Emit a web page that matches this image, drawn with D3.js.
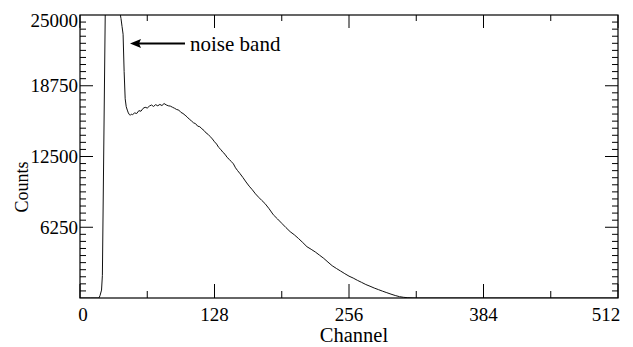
<!DOCTYPE html>
<html>
<head>
<meta charset="utf-8">
<script src="https://cdn.jsdelivr.net/npm/d3@7"></script>
<style>
  body { margin: 0; background: #fff; }
</style>
</head>
<body>
<svg id="chart"></svg>
<script>
// spectrum (channel, counts)
const channels = [0, 10, 17, 18, 19, 20.5, 21.3, 24, 24.3, 37, 38, 39, 40, 41, 42, 43, 44, 45, 46, 47, 48, 49, 50,
  52, 54, 56, 58, 60, 62, 64, 66, 68, 70, 72, 74, 76, 78, 80, 82, 84, 86, 88, 90, 92, 94, 96, 98, 100,
  102, 104, 106, 108, 110, 112, 114, 116, 118, 120, 122, 124, 126, 128, 130, 132, 134, 136, 138, 140,
  142, 144, 146, 148, 150, 152, 155, 158, 161, 164, 167, 170, 173, 176, 180, 184, 188, 192, 196, 200,
  204, 208, 212, 216, 220, 224, 228, 232, 236, 240, 244, 248, 252, 256, 260, 264, 268, 272, 276, 280,
  284, 288, 292, 296, 300, 304, 308, 312, 316, 320, 512]
const counts = [0, 0, 0, 0, 200, 700, 2000, 25000, 30000, 30000, 25200, 24700, 24000, 23300, 20000, 17600, 16900, 16600, 16350, 16200, 16150, 16250, 16200,
  16350, 16300, 16550, 16500, 16750, 16850, 16780, 16950, 17050, 16920, 17080, 16980, 17100, 17000, 17180, 17060, 16980, 16950, 16850, 16760, 16650, 16600, 16400, 16300, 16150,
  15990, 15800, 15650, 15480, 15400, 15180, 15130, 14950, 14800, 14580, 14450, 14250, 14050, 13800, 13600, 13300, 13120, 12870, 12700, 12420,
  12250, 12050, 11850, 11500, 11250, 11020, 10650, 10250, 9880, 9560, 9200, 8900, 8620, 8350, 7880, 7350, 6980, 6600, 6220, 5860,
  5580, 5250, 4900, 4530, 4300, 4060, 3780, 3500, 3170, 2850, 2610, 2380, 2150, 1930, 1760, 1560, 1380, 1190, 1040, 880,
  740, 600, 470, 340, 220, 120, 60, 25, 10, 0, 0]

const xMajor = [0, 128, 256, 384, 512]
const xMinor = [64, 192, 320, 448]
const yMajor = [6250, 12500, 18750, 25000]

const W = 633
const H = 347
const pLeft = 80, pRight = 618, pTop = 15, pBottom = 298
const serif = '"Liberation Serif", "Times New Roman", Times, "DejaVu Serif", serif'

const svg = d3.select('#chart')
  .attr('width', W)
  .attr('height', H)
  .style('font-family', serif)

const xScale = d3.scaleLinear().domain([0, 512]).range([pLeft, pRight])
const yScale = d3.scaleLinear().domain([0, 25000]).range([pBottom, pTop])

// clip so the noise spike gets cut at the top
svg.append('clipPath').attr('id', 'plot')
  .append('rect')
  .attr('x', pLeft).attr('y', pTop)
  .attr('width', pRight - pLeft).attr('height', pBottom - pTop)

const data = channels.map((c, i) => [c, counts[i]])

const line = d3.line()
  .x(d => xScale(d[0]))
  .y(d => yScale(d[1]))

svg.append('path')
  .datum(data)
  .attr('clip-path', 'url(#plot)')
  .attr('d', line)
  .attr('fill', 'none')
  .attr('stroke', '#111')
  .attr('stroke-width', 1)

// frame
svg.append('rect')
  .attr('x', pLeft).attr('y', pTop)
  .attr('width', pRight - pLeft).attr('height', pBottom - pTop)
  .attr('fill', 'none')
  .attr('stroke', '#000')
  .attr('stroke-width', 1.2)

// inward ticks, bottom + top
const xTicks = xMajor.map(v => [v, 14]).concat(xMinor.map(v => [v, 7]))
svg.append('g').selectAll('line')
  .data(xTicks)
  .enter()
  .append('line')
  .attr('x1', d => xScale(d[0])).attr('x2', d => xScale(d[0]))
  .attr('y1', pBottom).attr('y2', d => pBottom - d[1])
  .attr('stroke', '#000')
svg.append('g').selectAll('line')
  .data(xTicks)
  .enter()
  .append('line')
  .attr('x1', d => xScale(d[0])).attr('x2', d => xScale(d[0]))
  .attr('y1', pTop).attr('y2', d => pTop + d[1] - 1)
  .attr('stroke', '#000')

// y ticks every 625, long at 6250 steps, both sides
const yTicks = d3.range(625, 25000, 625).map(v => [v, v % 6250 === 0 ? 13 : 6])
svg.append('g').selectAll('line')
  .data(yTicks)
  .enter()
  .append('line')
  .attr('x1', pLeft).attr('x2', d => pLeft + d[1])
  .attr('y1', d => yScale(d[0])).attr('y2', d => yScale(d[0]))
  .attr('stroke', '#000')
svg.append('g').selectAll('line')
  .data(yTicks)
  .enter()
  .append('line')
  .attr('x1', pRight).attr('x2', d => pRight - d[1])
  .attr('y1', d => yScale(d[0])).attr('y2', d => yScale(d[0]))
  .attr('stroke', '#000')

// tick labels
svg.append('g').selectAll('text')
  .data(xMajor)
  .enter()
  .append('text')
  .attr('x', d => Math.min(Math.max(xScale(d), pLeft + 3), pRight - 12))
  .attr('y', 321)
  .attr('text-anchor', 'middle')
  .style('font-size', '19px')
  .text(d => d)

svg.append('g').selectAll('text')
  .data(yMajor)
  .enter()
  .append('text')
  .attr('x', 78)
  .attr('y', d => Math.max(yScale(d), 20) + 6.5)
  .attr('text-anchor', 'end')
  .style('font-size', '19px')
  .text(d => d)

// axis titles
svg.append('text')
  .attr('x', 354)
  .attr('y', 342)
  .attr('text-anchor', 'middle')
  .style('font-size', '20.5px')
  .text('Channel')

svg.append('text')
  .attr('transform', 'translate(28, 187) rotate(-90) scale(1, 1.1)')
  .attr('text-anchor', 'middle')
  .style('font-size', '18px')
  .text('Counts')

// annotation
svg.append('line')
  .attr('x1', 138).attr('x2', 185)
  .attr('y1', 43.5).attr('y2', 43.5)
  .attr('stroke', '#000')
  .attr('stroke-width', 2)
svg.append('path')
  .attr('d', 'M130,43.5 L141,39 L139,43.5 L141,48 Z')
  .attr('fill', '#000')

svg.append('text')
  .attr('x', 190)
  .attr('y', 51)
  .style('font-size', '21px')
  .text('noise band')
</script>
</body>
</html>
